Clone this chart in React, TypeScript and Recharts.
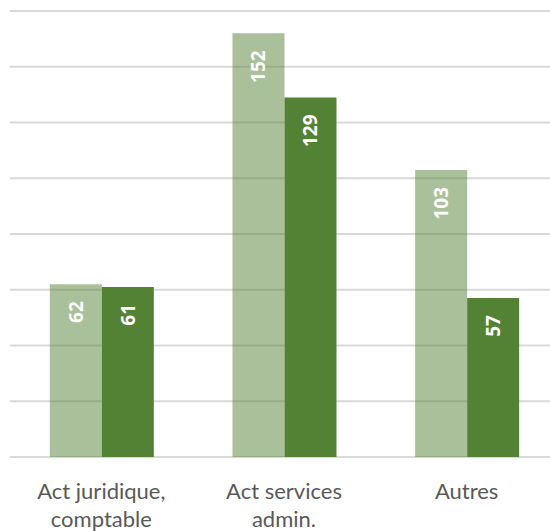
import { Bar, BarChart, CartesianGrid, LabelList, XAxis, YAxis } from "recharts";

const categories = ["Act juridique, comptable", "Act services admin.", "Autres"];
const tickLines = [["Act juridique,", "comptable"], ["Act services", "admin."], ["Autres"]];
const serieClaire = [62, 152, 103];
const serieFoncee = [61, 129, 57];
const yTicks = [0, 20, 40, 60, 80, 100, 120, 140, 160];

const data = categories.map((name, i) => ({ name, claire: serieClaire[i], foncee: serieFoncee[i] }));

const VERT = "#548235";

function BarLabel(props: any) {
  const { x, y, width, value } = props;
  const cx = x + width / 2;
  const ty = y + 17;
  return (
    <text
      x={cx}
      y={ty}
      transform={`rotate(-90, ${cx}, ${ty})`}
      textAnchor="end"
      dominantBaseline="central"
      fill="#fff"
      fontFamily="Open Sans"
      fontWeight="bold"
      fontSize={19}
    >
      {value}
    </text>
  );
}

function Tick(props: any) {
  const { x, y, index } = props;
  const lines = tickLines[index] ?? [];
  return (
    <text x={x} y={y} textAnchor="middle" fill="#595959" fontFamily="Lato" fontSize={22}>
      {lines.map((l, i) => (
        <tspan key={i} x={x} y={y + 34 + i * 28}>
          {l}
        </tspan>
      ))}
    </text>
  );
}

export default function App() {
  return (
    <div style={{ position: "absolute", left: 0, top: 0, width: 550, height: 531, overflow: "hidden", background: "#fff" }}>
      <BarChart
        width={570}
        height={531}
        data={data}
        margin={{ top: 11, left: 10, right: 12, bottom: 0 }}
        barCategoryGap="21.8%"
        barGap={0}
      >
        <CartesianGrid vertical={false} stroke="#d9d9d9" strokeWidth={2} />
        <XAxis dataKey="name" axisLine={false} tickLine={false} height={74} tick={<Tick />} interval={0} />
        <YAxis hide domain={[0, 160]} ticks={yTicks} />
        <Bar dataKey="claire" fill={VERT} fillOpacity={0.5} isAnimationActive={false}>
          <LabelList dataKey="claire" content={<BarLabel />} />
        </Bar>
        <Bar dataKey="foncee" fill={VERT} isAnimationActive={false}>
          <LabelList dataKey="foncee" content={<BarLabel />} />
        </Bar>
      </BarChart>
    </div>
  );
}
